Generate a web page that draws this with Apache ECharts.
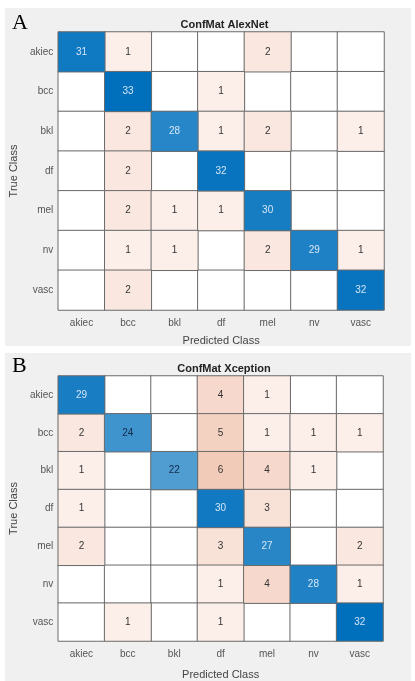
<!DOCTYPE html>
<html>
<head>
<meta charset="utf-8">
<script src="https://cdn.jsdelivr.net/npm/echarts@6/dist/echarts.min.js"></script>
<style>
html,body{margin:0;padding:0;background:#fff;}
#chart{width:415px;height:681px;}
</style>
</head>
<body>
<div id="chart"></div>
<script>
var classes = ['akiec', 'bcc', 'bkl', 'df', 'mel', 'nv', 'vasc'];
var titles = ['ConfMat AlexNet', 'ConfMat Xception'];
var panelLetters = ['A', 'B'];
// rows = true class, columns = predicted class
var alexnetMatrix = [
  [31, 1, 0, 0, 2, 0, 0],
  [0, 33, 0, 1, 0, 0, 0],
  [0, 2, 28, 1, 2, 0, 1],
  [0, 2, 0, 32, 0, 0, 0],
  [0, 2, 1, 1, 30, 0, 0],
  [0, 1, 1, 0, 2, 29, 1],
  [0, 2, 0, 0, 0, 0, 32]
];
var xceptionMatrix = [
  [29, 0, 0, 4, 1, 0, 0],
  [2, 24, 0, 5, 1, 1, 1],
  [1, 0, 22, 6, 4, 1, 0],
  [1, 0, 0, 30, 3, 0, 0],
  [2, 0, 0, 3, 27, 0, 2],
  [0, 0, 0, 1, 4, 28, 1],
  [0, 1, 0, 1, 0, 0, 32]
];
var matrices = [alexnetMatrix, xceptionMatrix];

var FONT = 'Liberation Sans, Arial, sans-serif';
var grids = [
  {left: 55, top: 32, width: 329, height: 278},
  {left: 55, top: 376, width: 328, height: 274}
];
var xNameGaps = [25, 28];

function split(m) {
  var diag = [], off = [], zero = [];
  for (var r = 0; r < m.length; r++) {
    for (var c = 0; c < m[r].length; c++) {
      var v = m[r][c];
      if (v === 0) { zero.push([c, r, 0]); continue; }
      if (r === c) {
        diag.push({value: [c, r, v], label: {color: v >= 26 ? '#d6e6f4' : '#14294a'}});
      } else {
        off.push([c, r, v]);
      }
    }
  }
  return {diag: diag, off: off, zero: zero};
}

var xAxes = [], yAxes = [], series = [], visualMaps = [], titleList = [];
matrices.forEach(function (m, i) {
  var parts = split(m);
  var maxV = 0;
  m.forEach(function (row) { row.forEach(function (v) { if (v > maxV) maxV = v; }); });
  xAxes.push({
    type: 'category', gridIndex: i, data: classes,
    name: 'Predicted Class', nameLocation: 'middle', nameGap: xNameGaps[i],
    nameTextStyle: {color: '#444', fontSize: 11, fontFamily: FONT},
    axisLine: {show: false}, axisTick: {show: false},
    axisLabel: {color: '#555', fontSize: 10, fontFamily: FONT, margin: 8},
    splitArea: {show: false}
  });
  yAxes.push({
    type: 'category', gridIndex: i, data: classes, inverse: true,
    name: 'True Class', nameLocation: 'middle', nameGap: 30, nameRotate: 90,
    nameTextStyle: {color: '#444', fontSize: 11, fontFamily: FONT},
    axisLine: {show: false}, axisTick: {show: false},
    axisLabel: {color: '#555', fontSize: 10, fontFamily: FONT, margin: 5}
  });
  var base = series.length;
  var cellStyle = {borderColor: '#6a6a6a', borderWidth: 1};
  series.push({
    type: 'heatmap', xAxisIndex: i, yAxisIndex: i, data: parts.zero,
    itemStyle: Object.assign({color: '#ffffff'}, cellStyle),
    label: {show: false}, emphasis: {disabled: true}
  });
  series.push({
    type: 'heatmap', xAxisIndex: i, yAxisIndex: i, data: parts.off,
    itemStyle: cellStyle,
    label: {show: true, color: '#333', fontSize: 10, fontFamily: FONT},
    emphasis: {disabled: true}
  });
  series.push({
    type: 'heatmap', xAxisIndex: i, yAxisIndex: i, data: parts.diag,
    itemStyle: cellStyle,
    label: {show: true, fontSize: 10, fontFamily: FONT},
    emphasis: {disabled: true}
  });
  visualMaps.push({
    show: false, type: 'continuous', seriesIndex: base + 1, dimension: 2,
    min: 1, max: 6, inRange: {color: ['#fcefea', '#f2cbb8']}
  });
  visualMaps.push({
    show: false, type: 'continuous', seriesIndex: base + 2, dimension: 2,
    min: 0, max: maxV, inRange: {color: ['#ffffff', '#0070bd']}
  });
  titleList.push({
    text: titles[i], left: grids[i].left + grids[i].width / 2, textAlign: 'center',
    top: i === 0 ? 14 : 358,
    textStyle: {fontSize: 11, fontWeight: 'bold', color: '#222', fontFamily: FONT}
  });
});

var chart = echarts.init(document.getElementById('chart'));
chart.setOption({
  animation: false,
  backgroundColor: '#ffffff',
  title: titleList,
  grid: grids,
  xAxis: xAxes,
  yAxis: yAxes,
  visualMap: visualMaps,
  series: series,
  graphic: [
    {type: 'rect', z: -10, silent: true, shape: {x: 5, y: 8, width: 406, height: 338}, style: {fill: '#f0f0f0'}},
    {type: 'rect', z: -10, silent: true, shape: {x: 5, y: 353, width: 406, height: 328}, style: {fill: '#f0f0f0'}},
    {type: 'text', left: 12, top: 12, style: {text: panelLetters[0], font: '22px "Liberation Serif", serif', fill: '#000'}},
    {type: 'text', left: 12, top: 355, style: {text: panelLetters[1], font: '22px "Liberation Serif", serif', fill: '#000'}}
  ]
});
</script>
</body>
</html>
